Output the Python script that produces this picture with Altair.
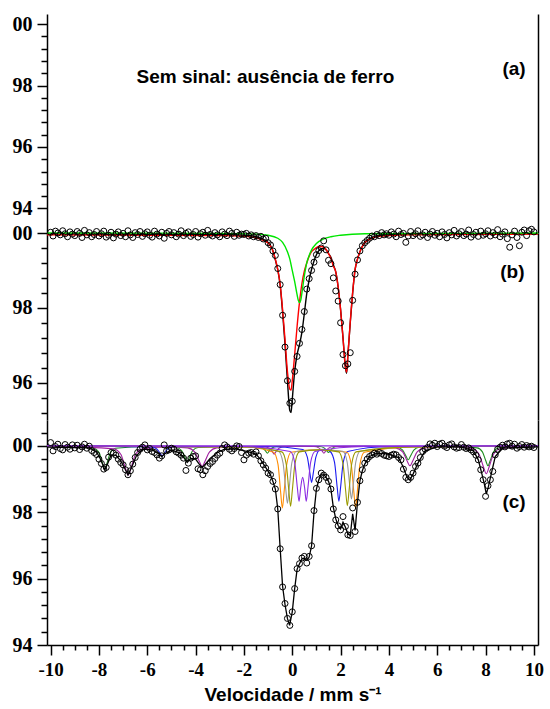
import altair as alt
import pandas as pd

# ---------------- velocity channels (mm/s) for the measured points ----------------
VEL = [
    -10.0, -9.9, -9.8, -9.7, -9.6, -9.5, -9.4, -9.3, -9.2, -9.1,
    -9.0, -8.9, -8.8, -8.7, -8.6, -8.5, -8.4, -8.3, -8.2, -8.1,
    -8.0, -7.9, -7.8, -7.7, -7.6, -7.5, -7.4, -7.3, -7.2, -7.1,
    -7.0, -6.9, -6.8, -6.7, -6.6, -6.5, -6.4, -6.3, -6.2, -6.1,
    -6.0, -5.9, -5.8, -5.7, -5.6, -5.5, -5.4, -5.3, -5.2, -5.1,
    -5.0, -4.9, -4.8, -4.7, -4.6, -4.5, -4.4, -4.3, -4.2, -4.1,
    -4.0, -3.9, -3.8, -3.7, -3.6, -3.5, -3.4, -3.3, -3.2, -3.1,
    -3.0, -2.9, -2.8, -2.7, -2.6, -2.5, -2.4, -2.3, -2.2, -2.1,
    -2.0, -1.9, -1.8, -1.7, -1.6, -1.5, -1.4, -1.3, -1.2, -1.1,
    -1.0, -0.9, -0.8, -0.7, -0.6, -0.5, -0.4, -0.3, -0.2, -0.1,
    0.0, 0.1, 0.2, 0.3, 0.4, 0.5, 0.6, 0.7, 0.8, 0.9,
    1.0, 1.1, 1.2, 1.3, 1.4, 1.5, 1.6, 1.7, 1.8, 1.9,
    2.0, 2.1, 2.2, 2.3, 2.4, 2.5, 2.6, 2.7, 2.8, 2.9,
    3.0, 3.1, 3.2, 3.3, 3.4, 3.5, 3.6, 3.7, 3.8, 3.9,
    4.0, 4.1, 4.2, 4.3, 4.4, 4.5, 4.6, 4.7, 4.8, 4.9,
    5.0, 5.1, 5.2, 5.3, 5.4, 5.5, 5.6, 5.7, 5.8, 5.9,
    6.0, 6.1, 6.2, 6.3, 6.4, 6.5, 6.6, 6.7, 6.8, 6.9,
    7.0, 7.1, 7.2, 7.3, 7.4, 7.5, 7.6, 7.7, 7.8, 7.9,
    8.0, 8.1, 8.2, 8.3, 8.4, 8.5, 8.6, 8.7, 8.8, 8.9,
    9.0, 9.1, 9.2, 9.3, 9.4, 9.5, 9.6, 9.7, 9.8, 9.9,
    10.0,
]

# ---------------- panel (b): measured transmission (%) ----------------
PTS_B = [
    100.02, 99.92, 100.05, 100.00, 99.95, 100.06, 99.98, 99.90, 100.03, 99.97,
    99.93, 100.04, 99.99, 99.88, 100.07, 99.95, 100.01, 99.90, 99.96, 100.04,
    99.92, 99.98, 100.05, 99.89, 99.94, 100.02, 99.87, 99.97, 100.03, 99.93,
    99.99, 99.90, 100.06, 99.95, 99.88, 100.01, 99.96, 100.04, 99.91, 99.98,
    100.03, 99.94, 99.89, 100.05, 99.97, 99.92, 100.02, 99.86, 99.99, 100.04,
    99.95, 100.01, 99.90, 99.97, 100.06, 99.93, 99.99, 100.03, 99.91, 99.96,
    100.04, 99.89, 99.98, 100.02, 99.94, 100.07, 99.96, 99.92, 100.01, 99.95,
    99.90, 100.03, 99.97, 99.93, 100.05, 99.99, 99.91, 100.02, 99.94, 99.97,
    99.96, 99.99, 99.92, 99.95, 99.90, 99.93, 99.88, 99.91, 99.84, 99.86,
    99.74, 99.68, 99.52, 99.40, 99.05, 98.62, 97.80, 96.95, 96.05, 95.45,
    95.50, 96.30, 96.70, 97.05, 97.42, 97.90, 98.50, 98.78, 99.00, 99.22,
    99.42, 99.53, 99.60, 99.79, 99.55, 99.27, 99.18, 98.80, 98.45, 98.18,
    97.60, 96.75, 96.45, 96.50, 96.80, 98.20, 98.90, 99.28, 99.52, 99.66,
    99.74, 99.80, 99.86, 99.92, 99.90, 99.96, 99.93, 100.01, 99.95, 99.98,
    99.94, 100.03, 99.97, 99.90, 100.05, 99.96, 99.99, 99.75, 99.92, 100.04,
    99.93, 99.98, 100.06, 99.91, 99.95, 100.02, 99.88, 99.97, 100.04, 99.94,
    99.99, 99.90, 100.03, 99.96, 99.87, 100.01, 99.95, 100.07, 99.92, 99.98,
    100.04, 99.93, 99.97, 100.08, 99.89, 99.96, 100.02, 99.91, 100.05, 99.94,
    99.98, 100.06, 99.92, 100.01, 99.95, 100.09, 99.90, 99.97, 100.03, 99.85,
    99.62, 99.95, 100.05, 99.88, 99.66, 100.02, 100.08, 99.93, 100.06, 100.10,
    100.03,
]

# ---------------- panel (c): measured transmission (%) ----------------
PTS_C = [
    100.10, 99.85, 99.98, 100.05, 99.92, 99.88, 100.04, 99.96, 99.90, 100.03,
    99.94, 100.02, 99.89, 99.97, 100.05, 99.93, 99.99, 99.86, 99.80, 99.74,
    99.60, 99.47, 99.30, 99.35, 99.66, 99.80, 99.78, 99.72, 99.60, 99.50,
    99.43, 99.28, 99.13, 99.25, 99.45, 99.65, 99.80, 99.90, 99.96, 100.03,
    99.88, 99.92, 99.83, 99.80, 99.73, 99.63, 99.70, 100.03, 99.85, 99.88,
    99.93, 99.90, 99.82, 99.78, 99.72, 99.63, 99.26, 99.48, 99.63, 99.68,
    99.70, 99.31, 99.28, 99.13, 99.25, 99.38, 99.47, 99.53, 99.62, 99.72,
    99.78, 99.92, 100.03, 99.97, 99.90, 99.85, 99.92, 100.00, 99.98, 99.80,
    99.58, 99.72, 99.78, 99.80, 99.75, 99.82, 99.70, 99.55, 99.43, 99.33,
    99.18, 99.13, 98.93, 98.70, 98.10, 96.90, 95.75, 95.25, 94.80, 94.59,
    95.00, 95.70, 96.30, 96.45, 96.62, 96.67, 96.47, 96.67, 96.99, 98.05,
    98.72, 98.98, 99.18, 99.12, 99.05, 98.93, 98.70, 98.10, 97.77, 97.59,
    97.47, 97.87, 97.57, 97.32, 97.30, 98.13, 97.42, 98.30, 98.95, 99.28,
    99.48, 99.60, 99.68, 99.73, 99.78, 99.75, 99.80, 99.77, 99.72, 99.70,
    99.68, 99.72, 99.75, 99.73, 99.65, 99.58, 99.30, 99.05, 98.98, 99.05,
    99.18, 99.38, 99.48, 99.65, 99.83, 99.90, 99.95, 100.06, 100.02, 100.08,
    99.98, 100.05, 100.08, 99.99, 99.95, 100.03, 100.06, 99.97, 99.93, 99.95,
    100.04, 99.96, 99.92, 99.94, 99.88, 99.82, 99.72, 99.58, 99.28, 98.98,
    98.48, 98.80, 98.98, 99.23, 99.73, 99.90, 99.96, 100.02, 99.97, 100.06,
    100.08, 99.99, 100.05, 99.93, 99.98, 100.04, 99.96, 100.01, 99.97, 99.99,
    99.95,
]

# ---------------- panel (b): fitted curves ----------------
FIT_B_X = [-10.15, -3.0, -2.0, -1.5, -1.2, -1.0, -0.9, -0.8, -0.7, -0.6,
           -0.5, -0.4, -0.3, -0.2, -0.1, -0.05, 0.0, 0.1, 0.2, 0.3,
           0.4, 0.5, 0.6, 0.7, 0.8, 0.9, 1.0, 1.1, 1.2, 1.3,
           1.4, 1.5, 1.6, 1.7, 1.8, 1.9, 2.0, 2.1, 2.2, 2.25,
           2.3, 2.4, 2.5, 2.6, 2.7, 2.8, 3.0, 3.3, 3.6, 4.0,
           5.0, 10.17]
TOTAL_B = [99.97, 99.96, 99.94, 99.90, 99.83, 99.75, 99.66, 99.52, 99.28, 99.02,
           98.60, 97.88, 97.03, 96.05, 95.25, 95.20, 95.55, 96.30, 96.75, 97.02,
           97.35, 97.85, 98.38, 98.75, 99.03, 99.25, 99.42, 99.53, 99.58, 99.59,
           99.55, 99.45, 99.35, 99.15, 98.96, 98.55, 97.95, 97.20, 96.40, 96.25,
           96.70, 97.60, 98.40, 99.02, 99.30, 99.50, 99.75, 99.88, 99.94, 99.96,
           99.97, 99.98]
RED_B = [99.95, 99.93, 99.91, 99.87, 99.80, 99.73, 99.65, 99.52, 99.30, 99.02,
         98.62, 97.95, 97.15, 96.30, 95.82, 95.80, 96.05, 96.75, 97.50, 98.15,
         98.65, 98.98, 99.20, 99.38, 99.50, 99.56, 99.61, 99.64, 99.64, 99.62,
         99.56, 99.45, 99.32, 99.12, 98.96, 98.55, 97.95, 97.20, 96.42, 96.28,
         96.72, 97.62, 98.42, 99.03, 99.30, 99.50, 99.74, 99.86, 99.91, 99.93,
         99.95, 99.97]
GREEN_B_X = [-10.15, -3.0, -1.5, -1.0, -0.6, -0.4, -0.2, -0.1, 0.0, 0.1,
             0.2, 0.25, 0.3, 0.35, 0.4, 0.5, 0.6, 0.7, 0.8, 1.0,
             1.3, 1.6, 2.0, 3.0, 10.17]
GREEN_B = [100.0, 99.99, 99.97, 99.94, 99.86, 99.75, 99.50, 99.30, 99.00, 98.70,
           98.35, 98.20, 98.14, 98.20, 98.40, 98.85, 99.20, 99.40, 99.55, 99.72,
           99.84, 99.90, 99.94, 99.98, 100.0]

# ---------------- panel (c): fitted total ----------------
FIT_C_X = [-10.15, -8.4, -8.1, -7.95, -7.85, -7.76, -7.65, -7.5, -7.3, -7.1,
           -6.95, -6.8, -6.65, -6.45, -6.2, -5.8, -5.55, -5.4, -5.25, -5.0,
           -4.7, -4.5, -4.35, -4.2, -4.0, -3.85, -3.73, -3.6, -3.4, -3.1,
           -2.8, -2.3, -1.8, -1.5, -1.3, -1.1, -0.9, -0.8, -0.7, -0.6,
           -0.5, -0.4, -0.3, -0.2, -0.11, 0.0, 0.1, 0.2, 0.3, 0.4,
           0.5, 0.6, 0.7, 0.8, 0.9, 1.0, 1.1, 1.2, 1.3, 1.4,
           1.5, 1.6, 1.7, 1.8, 1.9, 2.0, 2.1, 2.2, 2.3, 2.4,
           2.5, 2.6, 2.7, 2.8, 2.9, 3.0, 3.2, 3.5, 4.0, 4.4,
           4.6, 4.75, 4.87, 5.0, 5.2, 5.5, 6.0, 7.0, 7.5, 7.7,
           7.85, 7.95, 8.03, 8.12, 8.25, 8.4, 8.7, 10.17]
TOTAL_C = [99.96, 99.94, 99.82, 99.62, 99.45, 99.28, 99.45, 99.72, 99.72, 99.55,
           99.35, 99.12, 99.35, 99.70, 99.90, 99.88, 99.78, 99.68, 99.78, 99.88,
           99.80, 99.66, 99.50, 99.62, 99.60, 99.45, 99.35, 99.45, 99.62, 99.80,
           99.90, 99.90, 99.82, 99.75, 99.58, 99.35, 99.12, 98.93, 98.70, 98.10,
           96.90, 95.77, 95.22, 94.80, 94.59, 95.00, 95.70, 96.28, 96.45, 96.60,
           96.62, 96.55, 96.65, 96.99, 98.00, 98.70, 98.98, 99.15, 99.15, 99.05,
           98.93, 98.70, 98.15, 97.80, 97.60, 97.50, 97.70, 97.55, 97.35, 97.30,
           97.95, 97.45, 98.30, 98.95, 99.25, 99.45, 99.68, 99.78, 99.75, 99.65,
           99.35, 99.05, 98.98, 99.15, 99.48, 99.85, 99.97, 99.97, 99.85, 99.58,
           99.15, 98.85, 98.55, 98.78, 99.20, 99.68, 99.93, 99.97]

# ---------------- panel (c): sub-spectra ----------------
GRN_X = [-10.15, -8.21, -7.99, -7.85, -7.76, -7.67, -7.53, -7.31, -6.0,
         -4.80, -4.58, -4.44, -4.35, -4.26, -4.12, -3.90, -2.5,
         -1.40, -1.21, -1.10, -1.03, -0.96, -0.85, -0.66, 0.2,
         1.13, 1.32, 1.43, 1.50, 1.57, 1.68, 1.87, 3.2,
         4.35, 4.57, 4.71, 4.80, 4.89, 5.03, 5.25, 6.5,
         7.65, 7.87, 8.01, 8.10, 8.19, 8.33, 8.55, 10.17]
GRN_T = [100.0, 99.93, 99.79, 99.47, 99.30, 99.47, 99.79, 99.93, 99.98,
         99.95, 99.86, 99.65, 99.53, 99.65, 99.86, 99.95, 99.98,
         99.98, 99.93, 99.84, 99.78, 99.84, 99.93, 99.98, 99.99,
         99.98, 99.94, 99.85, 99.80, 99.85, 99.94, 99.98, 99.99,
         99.96, 99.87, 99.69, 99.58, 99.69, 99.87, 99.96, 99.98,
         99.94, 99.82, 99.55, 99.40, 99.55, 99.82, 99.94, 100.0]
MAG_X = [-10.15, -7.39, -7.09, -6.91, -6.79, -6.67, -6.49, -6.19, -5.2,
         -4.33, -4.03, -3.85, -3.73, -3.61, -3.43, -3.13, -2.0,
         -1.20, -0.95, -0.82, -0.75, -0.68, -0.55, -0.30, 0.3,
         0.90, 1.10, 1.24, 1.31, 1.38, 1.52, 1.72, 3.0,
         4.27, 4.57, 4.75, 4.87, 4.99, 5.17, 5.47, 6.5,
         7.43, 7.73, 7.91, 8.03, 8.15, 8.33, 8.63, 10.17]
MAG_T = [100.0, 99.91, 99.74, 99.34, 99.12, 99.34, 99.74, 99.91, 99.97,
         99.94, 99.81, 99.54, 99.38, 99.54, 99.81, 99.94, 99.98,
         99.98, 99.93, 99.82, 99.75, 99.82, 99.93, 99.98, 99.99,
         99.98, 99.94, 99.84, 99.78, 99.84, 99.94, 99.98, 99.99,
         99.94, 99.82, 99.55, 99.40, 99.55, 99.82, 99.94, 99.98,
         99.92, 99.75, 99.37, 99.16, 99.37, 99.75, 99.92, 100.0]
BLU_X = [-10.15, -5.83, -5.61, -5.47, -5.38, -5.29, -5.15, -4.93, -1.0,
         0.44, 0.62, 0.73, 0.80, 0.87, 0.98, 1.16, 1.35,
         1.57, 1.75, 1.86, 1.93, 2.00, 2.11, 2.29, 4.0, 10.17]
BLU_T = [100.0, 99.97, 99.91, 99.78, 99.70, 99.78, 99.91, 99.97, 99.98,
         99.89, 99.67, 99.18, 98.90, 99.18, 99.67, 99.89, 99.90,
         99.83, 99.50, 98.75, 98.33, 98.75, 99.50, 99.83, 99.98, 100.0]
ORA_X = [-10.15, -2.0, -0.77, -0.59, -0.48, -0.41, -0.34, -0.23, -0.05, 1.1,
         2.26, 2.44, 2.55, 2.62, 2.69, 2.80, 2.98, 5.0, 10.17]
ORA_T = [100.0, 99.97, 99.81, 99.44, 98.60, 98.13, 98.60, 99.44, 99.81, 99.88,
         99.81, 99.44, 98.60, 98.13, 98.60, 99.44, 99.81, 99.97, 100.0]
GRY_X = [-10.15, -2.0, -0.56, -0.38, -0.27, -0.20, -0.13, -0.02, 0.16, 1.1,
         2.09, 2.27, 2.38, 2.45, 2.52, 2.63, 2.81, 5.0, 10.17]
GRY_T = [100.0, 99.97, 99.83, 99.48, 98.70, 98.27, 98.70, 99.48, 99.83, 99.88,
         99.84, 99.52, 98.80, 98.40, 98.80, 99.52, 99.84, 99.97, 100.0]
OLV_X = [-10.15, -2.0, -0.43, -0.25, -0.14, -0.07, 0.00, 0.11, 0.29, 1.1,
         1.92, 2.10, 2.21, 2.28, 2.35, 2.46, 2.64, 5.0, 10.17]
OLV_T = [100.0, 99.97, 99.82, 99.45, 98.64, 98.18, 98.64, 99.45, 99.82, 99.88,
         99.82, 99.46, 98.65, 98.20, 98.65, 99.46, 99.82, 99.97, 100.0]
VIO_X = [-10.15, -2.0, -0.08, 0.10, 0.21, 0.28, 0.35, 0.43, 0.51, 0.58,
         0.65, 0.76, 0.94, 3.0, 10.17]
VIO_T = [100.0, 99.98, 99.83, 99.50, 98.75, 98.33, 98.75, 99.05, 98.75, 98.33,
         98.75, 99.50, 99.83, 99.98, 100.0]
BASE_X = [-10.15, 10.17]
BASE_T = [100.0, 100.0]

# ---------------- axes: ticks and labels ----------------
X_TICKS = [-10, -9.5, -9, -8.5, -8, -7.5, -7, -6.5, -6, -5.5, -5, -4.5, -4, -3.5,
           -3, -2.5, -2, -1.5, -1, -0.5, 0, 0.5, 1, 1.5, 2, 2.5, 3, 3.5, 4, 4.5,
           5, 5.5, 6, 6.5, 7, 7.5, 8, 8.5, 9, 9.5, 10]
YA_TICKS = [94.0, 94.4, 94.8, 95.2, 95.6, 96.0, 96.4, 96.8, 97.2, 97.6, 98.0,
            98.4, 98.8, 99.2, 99.6, 100.0]
YB_TICKS = [95.2, 95.6, 96.0, 96.4, 96.8, 97.2, 97.6, 98.0, 98.4, 98.8, 99.2,
            99.6, 100.0]
YC_TICKS = [94.0, 94.4, 94.8, 95.2, 95.6, 96.0, 96.4, 96.8, 97.2, 97.6, 98.0,
            98.4, 98.8, 99.2, 99.6, 100.0, 100.4]

ANN_A_LABEL = ["Sem sinal: ausência de ferro", "(a)"]
ANN_A_V = [-1.11, 9.18]
ANN_A_T = [98.28, 98.55]
ANN_B_LABEL = ["(b)"]
ANN_B_V = [9.11]
ANN_B_T = [98.95]
ANN_C_LABEL = ["(c)"]
ANN_C_V = [9.18]
ANN_C_T = [98.32]

for a, b in [(VEL, PTS_B), (VEL, PTS_C), (FIT_B_X, TOTAL_B), (FIT_B_X, RED_B),
             (GREEN_B_X, GREEN_B), (FIT_C_X, TOTAL_C), (GRN_X, GRN_T), (MAG_X, MAG_T),
             (BLU_X, BLU_T), (ORA_X, ORA_T), (GRY_X, GRY_T), (OLV_X, OLV_T),
             (VIO_X, VIO_T)]:
    assert len(a) == len(b), (len(a), len(b))

# ---------------- layout / styles ----------------
W = 491
H_A, H_B, H_C = 219, 187, 225
X_DOMAIN = [-10.15, 10.17]
YA_DOMAIN = [93.2, 100.33]
YB_DOMAIN = [95.0, 100.0]
YC_DOMAIN = [94.0, 100.78]

# one colour table for every fitted curve of both panels
LINE_NAMES = ["b_total", "b_red", "b_green",
              "c_green", "c_magenta", "c_blue", "c_orange", "c_gray", "c_olive",
              "c_violet", "c_base"]
LINE_COLORS = ["#000000", "#FF0000", "#00E600",
               "#1E8C1E", "#A020A0", "#1A1AF0", "#FF8C00", "#9A9A9A", "#9A9A00",
               "#8A2BE2", "#8A2BE2"]
color_scale = alt.Scale(domain=LINE_NAMES, range=LINE_COLORS)

MAJOR = "abs(datum.value - round(datum.value / 2) * 2) < 0.01"
LABEL_Y = MAJOR + " ? (datum.value == 100 ? '00' : '' + datum.value) : ''"
LABEL_X = MAJOR + " ? '' + datum.value : ''"

xs = alt.Scale(domain=X_DOMAIN, nice=False, zero=False)


def yscale(dom):
    return alt.Scale(domain=dom, nice=False, zero=False)


def left_axis(ticks):
    return alt.Axis(orient="left", values=ticks, labelExpr=LABEL_Y,
                    tickSize={"condition": {"test": MAJOR, "value": 10}, "value": 6},
                    tickWidth=1.5, tickColor="black", domainColor="black", domainWidth=1.5,
                    labelFont="Liberation Serif", labelFontSize=20, labelFontWeight="bold",
                    labelColor="black", labelPadding=5, labelOverlap=False, grid=False, title=None)


right_axis = alt.Axis(orient="right", labels=False, ticks=False, domain=True,
                      domainColor="black", domainWidth=1.5, grid=False, title=None)

bottom_axis = alt.Axis(orient="bottom", values=X_TICKS, labelExpr=LABEL_X,
                       tickSize={"condition": {"test": MAJOR, "value": 10}, "value": 5},
                       tickWidth=1.5, tickColor="black", domainColor="black", domainWidth=1.5,
                       labelFont="Liberation Serif", labelFontSize=19, labelFontWeight="bold",
                       labelColor="black", labelPadding=5, labelOverlap=False, labelFlush=False,
                       grid=False, title="Velocidade / mm s⁻¹", titleFont="Liberation Sans",
                       titleFontSize=19, titleFontWeight="bold", titleColor="black",
                       titlePadding=6)


def frame(name, xs_list, ts_list):
    return pd.DataFrame({"v": xs_list, "T": ts_list, "comp": name})


def points_layer(ts, ysc, yaxis):
    df = pd.DataFrame({"v": VEL, "T": ts})
    return alt.Chart(df).mark_point(shape="circle", filled=False, size=36, color="black",
                                    strokeWidth=1, opacity=1).encode(
        x=alt.X("v:Q", scale=xs, axis=None),
        y=alt.Y("T:Q", scale=ysc, axis=yaxis),
    )


def text_layer(labels, vv, tt, ysc, size):
    df = pd.DataFrame({"label": labels, "v": vv, "T": tt})
    return alt.Chart(df).mark_text(font="Liberation Sans", fontWeight="bold", fontSize=size,
                                   color="black", align="center", baseline="middle").encode(
        x=alt.X("v:Q", scale=xs, axis=None),
        y=alt.Y("T:Q", scale=ysc, axis=None),
        text="label:N",
    )


# ---------------- panel (a) ----------------
ysa = yscale(YA_DOMAIN)
ann_a = pd.DataFrame({"label": ANN_A_LABEL, "v": ANN_A_V, "T": ANN_A_T})
a_left = alt.Chart(ann_a).mark_point(opacity=0).encode(
    x=alt.X("v:Q", scale=xs, axis=None), y=alt.Y("T:Q", scale=ysa, axis=left_axis(YA_TICKS)))
a_right = alt.Chart(ann_a).mark_point(opacity=0).encode(
    x=alt.X("v:Q", scale=xs, axis=None), y=alt.Y("T:Q", scale=ysa, axis=right_axis))
a_text = text_layer(ANN_A_LABEL, ANN_A_V, ANN_A_T, ysa, 19)
panel_a = alt.layer(a_left, a_right, a_text).resolve_axis(x="independent", y="independent").properties(
    width=W, height=H_A)

# ---------------- panel (b) ----------------
ysb = yscale(YB_DOMAIN)
lines_b = pd.concat([frame("b_total", FIT_B_X, TOTAL_B),
                     frame("b_red", FIT_B_X, RED_B),
                     frame("b_green", GREEN_B_X, GREEN_B)], ignore_index=True)
b_lines = alt.Chart(lines_b).mark_line(interpolate="monotone", strokeWidth=1.4).encode(
    x=alt.X("v:Q", scale=xs, axis=None),
    y=alt.Y("T:Q", scale=ysb, axis=left_axis(YB_TICKS)),
    color=alt.Color("comp:N", scale=color_scale, legend=None),
)
b_pts = points_layer(PTS_B, ysb, right_axis)
b_text = text_layer(ANN_B_LABEL, ANN_B_V, ANN_B_T, ysb, 19)
panel_b = alt.layer(b_lines, b_pts, b_text).resolve_axis(x="independent", y="independent").properties(
    width=W, height=H_B)

# ---------------- panel (c) ----------------
ysc = yscale(YC_DOMAIN)
lines_c = pd.concat([frame("c_green", GRN_X, GRN_T), frame("c_magenta", MAG_X, MAG_T),
                     frame("c_blue", BLU_X, BLU_T), frame("c_orange", ORA_X, ORA_T),
                     frame("c_gray", GRY_X, GRY_T), frame("c_olive", OLV_X, OLV_T),
                     frame("c_violet", VIO_X, VIO_T), frame("c_base", BASE_X, BASE_T)],
                    ignore_index=True)
c_comps = alt.Chart(lines_c).mark_line(interpolate="monotone", strokeWidth=1.1).encode(
    x=alt.X("v:Q", scale=xs, axis=bottom_axis),
    y=alt.Y("T:Q", scale=ysc, axis=left_axis(YC_TICKS)),
    color=alt.Color("comp:N", scale=color_scale, legend=None),
)
total_c = frame("c_total", FIT_C_X, TOTAL_C)
c_total = alt.Chart(total_c).mark_line(interpolate="linear", strokeWidth=1.3, color="black").encode(
    x=alt.X("v:Q", scale=xs, axis=None),
    y=alt.Y("T:Q", scale=ysc, axis=None),
)
c_pts = points_layer(PTS_C, ysc, right_axis)
c_text = text_layer(ANN_C_LABEL, ANN_C_V, ANN_C_T, ysc, 19)
panel_c = alt.layer(c_comps, c_total, c_pts, c_text).resolve_axis(
    x="independent", y="independent").properties(width=W, height=H_C)

chart = alt.vconcat(panel_a, panel_b, panel_c, spacing=0, bounds="flush").properties(
    padding={"left": 12, "top": 14, "right": 6, "bottom": 0},
    background="white",
).configure_view(stroke=None)

chart.save("out.html", embed_options={"renderer": "svg", "actions": False})
